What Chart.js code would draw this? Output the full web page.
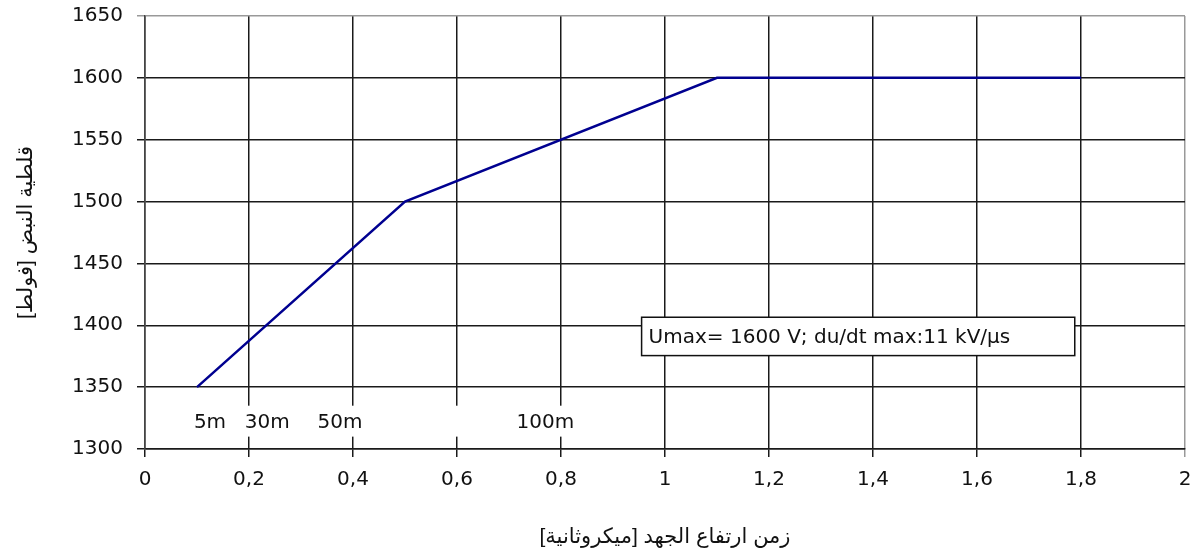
<!DOCTYPE html>
<html>
<head>
<meta charset="utf-8">
<script src="https://cdn.jsdelivr.net/npm/chart.js@4/dist/chart.umd.min.js"></script>
<style>
  html, body { margin: 0; padding: 0; background: #fff; }
  #wrap { width: 1198px; height: 560px; }
</style>
</head>
<body>
<div id="wrap"><canvas id="pulseChart" width="1198" height="560"></canvas></div>
<script>
// rise time [µs] vs pulse voltage [V]
const riseTime = [0.1, 0.5, 1.1, 1.8];
const pulseVolt = [1350, 1500, 1600, 1600];

// small labels along the bottom row (x in µs, y in V)
const noteText = ['5m', '30m', '50m', '100m'];
const noteX = [0.125, 0.235, 0.375, 0.77];
const noteY = 1321;

const boxText = 'Umax= 1600 V; du/dt max:11 kV/µs';

const FONT = 'DejaVu Sans, Liberation Sans, sans-serif';
const TITLE_FONT = 'Liberation Sans, DejaVu Sans, sans-serif';

// draws the white label strip and the boxed legend text on the chart
const notesPlugin = {
    id: 'notes',
    afterDraw(chart) {
        const ctx = chart.ctx;
        const xs = chart.scales.x, ys = chart.scales.y;
        ctx.save();

        // white strip that hides grid lines behind the labels
        const x0 = xs.getPixelForValue(0.087), x1 = xs.getPixelForValue(0.87);
        const y0 = ys.getPixelForValue(1335), y1 = ys.getPixelForValue(1310);
        ctx.fillStyle = '#fff';
        ctx.fillRect(x0, y0, x1 - x0, y1 - y0);

        ctx.font = '20px ' + FONT;
        ctx.fillStyle = '#111';
        ctx.textAlign = 'center';
        ctx.textBaseline = 'middle';
        noteText.forEach((t, i) => {
            ctx.fillText(t, xs.getPixelForValue(noteX[i]), ys.getPixelForValue(noteY));
        });

        // boxed note
        const bx0 = xs.getPixelForValue(0.955), bx1 = xs.getPixelForValue(1.788);
        const by0 = ys.getPixelForValue(1406.5), by1 = ys.getPixelForValue(1375.5);
        ctx.fillStyle = '#fff';
        ctx.fillRect(bx0, by0, bx1 - bx0, by1 - by0);
        ctx.strokeStyle = '#111';
        ctx.lineWidth = 1.5;
        ctx.strokeRect(bx0, by0, bx1 - bx0, by1 - by0);
        ctx.fillStyle = '#111';
        ctx.textAlign = 'left';
        ctx.fillText(boxText, bx0 + 7, (by0 + by1) / 2 + 1);

        ctx.restore();
    }
};

const ctx = document.getElementById('pulseChart').getContext('2d');
new Chart(ctx, {
    type: 'line',
    data: {
        datasets: [{
            data: riseTime.map((t, i) => ({ x: t, y: pulseVolt[i] })),
            borderColor: '#000090',
            borderWidth: 2.5,
            pointRadius: 0,
            tension: 0,
            fill: false
        }]
    },
    options: {
        responsive: false,
        animation: false,
        layout: { padding: { top: 16, right: 13, left: 0, bottom: 0 } },
        plugins: {
            legend: { display: false },
            tooltip: { enabled: false }
        },
        scales: {
            x: {
                type: 'linear',
                min: 0,
                max: 2,
                afterFit: (s) => {
                    s.height = 111;
                    s.paddingRight = 0;
                },
                ticks: {
                    stepSize: 0.2,
                    color: '#111',
                    font: { family: FONT, size: 20 },
                    padding: 11,
                    maxRotation: 0,
                    callback: (v) => (Math.round(v * 10) / 10).toString().replace('.', ',')
                },
                grid: {
                    color: (c) => c.index === 10 ? '#999' : '#1a1a1a',
                    lineWidth: 1.5,
                    tickLength: 8
                },
                border: { color: '#1a1a1a', width: 1.5 },
                title: {
                    display: true,
                    text: 'زمن ارتفاع الجهد [ميكروثانية]',
                    color: '#111',
                    font: { family: TITLE_FONT, size: 21 },
                    padding: { top: 30, bottom: 10 }
                }
            },
            y: {
                min: 1300,
                max: 1650,
                afterFit: (s) => {
                    s.width = 145;
                    s.paddingTop = 0;
                    s.paddingBottom = 0;
                },
                ticks: {
                    stepSize: 50,
                    color: '#111',
                    font: { family: FONT, size: 20 },
                    padding: 14,
                    callback: (v) => String(v)
                },
                grid: {
                    color: (c) => c.tick && c.tick.value === 1650 ? '#999' : '#1a1a1a',
                    lineWidth: 1.5,
                    tickLength: 8
                },
                border: { color: '#444', width: 1.5 },
                title: {
                    display: true,
                    text: 'قلطية النبض [فولط]',
                    color: '#111',
                    font: { family: TITLE_FONT, size: 21 },
                    padding: { top: 14, bottom: 0 }
                }
            }
        }
    },
    plugins: [notesPlugin]
});
</script>
</body>
</html>
